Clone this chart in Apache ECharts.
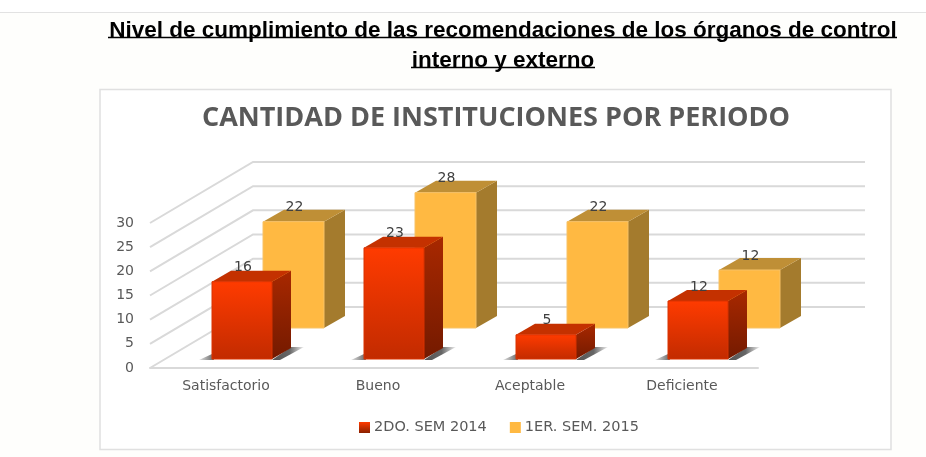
<!DOCTYPE html>
<html>
<head>
    <meta charset="utf-8">
    <title>Cantidad de instituciones por periodo</title>
    <script src="https://cdn.jsdelivr.net/npm/echarts@6/dist/echarts.min.js"></script>
    <style>
        html, body { margin: 0; padding: 0; background: #fefefc; }
        #main { width: 926px; height: 457px; }
    </style>
</head>
<body>
<div id="main"></div>
<script type="text/javascript">
    var categories = ['Satisfactorio', 'Bueno', 'Aceptable', 'Deficiente'];
    var sem2014 = [16, 23, 5, 12];
    var sem2015 = [22, 28, 22, 12];
    var yTicks = [0, 5, 10, 15, 20, 25, 30];
    var heading = ['Nivel de cumplimiento de las recomendaciones de los órganos de control', 'interno y externo'];
    var chartTitle = 'CANTIDAD DE INSTITUCIONES POR PERIODO';
    var seriesNames = ['2DO. SEM 2014', '1ER. SEM. 2015'];

    function grad(top, bottom) {
        return new echarts.graphic.LinearGradient(0, 0, 0, 1, [
            { offset: 0, color: top },
            { offset: 1, color: bottom }
        ]);
    }

    // paredes del grafico 3D
    function renderWall(params, api) {
        var grid = params.coordSys;
        var y = api.coord([0, api.value(1)])[1];
        var backX = grid.x + 103;
        return {
            type: 'polyline',
            shape: { points: [[grid.x, y], [backX, y - 61], [grid.x + 715, y - 61]] },
            style: { stroke: '#d9d9d9', lineWidth: 2, fill: null },
            silent: true
        };
    }

    function box(api, cfg) {
        var i = api.value(0);
        var v = api.value(1);
        var cx = api.coord([i, 0])[0];
        var y0 = api.coord([i, 0])[1];
        var yv = api.coord([i, v])[1];
        var l = cx + cfg.dx;
        var r = l + cfg.w;
        var b = y0 + cfg.dy;
        var t = yv + cfg.dy;
        var dx = cfg.depthX;
        var dy = cfg.depthY;
        var children = [];
        if (cfg.shadow) {
            // sombra sobre el piso
            children.push({
                type: 'polygon',
                shape: { points: [[l - 13, b + 1], [l, b - 5], [l + 2, b + 1]] },
                style: {
                    fill: new echarts.graphic.LinearGradient(0, 0, 1, 0, [
                        { offset: 0, color: '#e2e2e2' },
                        { offset: 1, color: '#666666' }
                    ])
                }
            });
            children.push({
                type: 'polygon',
                shape: { points: [[r, b + 1], [r + dx, b - dy - 1], [r + dx + 13, b - dy - 1], [r + 8, b + 1]] },
                style: {
                    fill: new echarts.graphic.LinearGradient(0, 0, 1, 0, [
                        { offset: 0, color: '#555555' },
                        { offset: 0.55, color: '#666666' },
                        { offset: 1, color: '#f0f0f0' }
                    ])
                }
            });
        }
        children.push({
            type: 'polygon',
            shape: { points: [[r, t], [r + dx, t - dy], [r + dx, b - dy], [r, b]] },
            style: { fill: cfg.side }
        });
        children.push({
            type: 'polygon',
            shape: { points: [[l, t], [l + dx, t - dy], [r + dx, t - dy], [r, t]] },
            style: { fill: cfg.top }
        });
        children.push({
            type: 'rect',
            shape: { x: l, y: t, width: cfg.w, height: b - t },
            style: { fill: cfg.front, stroke: cfg.edge, lineWidth: 1 }
        });
        children.push({
            type: 'text',
            style: {
                text: String(v),
                x: l + cfg.w / 2 + 1,
                y: t - 14,
                align: 'center',
                verticalAlign: 'middle',
                fill: '#404040',
                font: '14px "DejaVu Sans"'
            }
        });
        return { type: 'group', children: children, silent: true };
    }

    var frontStyle = {
        dx: -14, dy: -9, w: 60, depthX: 19, depthY: 11, shadow: true,
        front: grad('#ff3b00', '#c22b00'), side: grad('#a82800', '#741a00'),
        top: '#c43100', edge: '#d93200'
    };
    var backStyle = {
        dx: 37, dy: -40, w: 61, depthX: 21, depthY: 12, shadow: false,
        front: '#ffb942', side: '#a47b2d', top: '#bf8f36', edge: '#f7c266'
    };

    function toPoints(values) {
        return values.map(function (v, i) { return [i, v]; });
    }

    var myChart = echarts.init(document.getElementById('main'));
    var option = {
        backgroundColor: '#fefefc',
        animation: false,
        textStyle: { fontFamily: 'DejaVu Sans' },
        title: [
            {
                text: heading[0], left: 498, top: 14, textAlign: 'center',
                textStyle: { fontFamily: 'Liberation Sans', fontWeight: 'bold', fontSize: 22.5, color: '#000000' }
            },
            {
                text: heading[1], left: 498, top: 44, textAlign: 'center',
                textStyle: { fontFamily: 'Liberation Sans', fontWeight: 'bold', fontSize: 22.5, color: '#000000' }
            },
            {
                text: chartTitle, left: 491, top: 100, textAlign: 'center',
                textStyle: { fontFamily: 'Open Sans', fontWeight: 'bold', fontSize: 27, color: '#595959' }
            }
        ],
        graphic: [
            { type: 'rect', z: -1, shape: { x: 0, y: 0, width: 926, height: 12 }, style: { fill: '#ffffff' } },
            { type: 'line', z: -1, shape: { x1: 0, y1: 12.5, x2: 926, y2: 12.5 }, style: { stroke: '#e2e2e2', lineWidth: 1 } },
            { type: 'rect', z: -1, shape: { x: 100, y: 89.5, width: 791, height: 360 }, style: { fill: '#ffffff', stroke: '#e0e0e0', lineWidth: 1.5 } },
            { type: 'line', shape: { x1: 108, y1: 37.5, x2: 897, y2: 37.5 }, style: { stroke: '#000000', lineWidth: 1.5 } },
            { type: 'line', shape: { x1: 411, y1: 67.5, x2: 595, y2: 67.5 }, style: { stroke: '#000000', lineWidth: 1.5 } }
        ],
        legend: {
            data: seriesNames,
            left: 354,
            top: 415,
            icon: 'rect',
            itemWidth: 11,
            itemHeight: 11,
            itemGap: 23,
            textStyle: { color: '#595959', fontSize: 14.5, padding: [0, 0, 0, -1] }
        },
        grid: { left: 150, top: 223, width: 608, height: 145 },
        xAxis: {
            type: 'category',
            data: categories,
            axisTick: { show: false },
            axisLine: { lineStyle: { color: '#d9d9d9', width: 2 } },
            axisLabel: { color: '#595959', fontSize: 14, margin: 11 }
        },
        yAxis: {
            type: 'value',
            min: 0,
            max: 30,
            interval: 5,
            axisLine: { show: false },
            axisTick: { show: false },
            splitLine: { show: false },
            axisLabel: { color: '#595959', fontSize: 14, margin: 16 }
        },
        series: [
            {
                name: 'pared',
                type: 'custom',
                z: 1,
                renderItem: renderWall,
                encode: { x: 0, y: 1 },
                data: yTicks.map(function (t) { return [0, t]; })
            },
            {
                name: seriesNames[1],
                type: 'custom',
                z: 2,
                itemStyle: { color: '#ffb942' },
                renderItem: function (params, api) { return box(api, backStyle); },
                encode: { x: 0, y: 1 },
                data: toPoints(sem2015)
            },
            {
                name: seriesNames[0],
                type: 'custom',
                z: 3,
                itemStyle: { color: grad('#ff3b00', '#8a2000') },
                renderItem: function (params, api) { return box(api, frontStyle); },
                encode: { x: 0, y: 1 },
                data: toPoints(sem2014)
            }
        ]
    };
    myChart.setOption(option);
</script>
</body>
</html>
